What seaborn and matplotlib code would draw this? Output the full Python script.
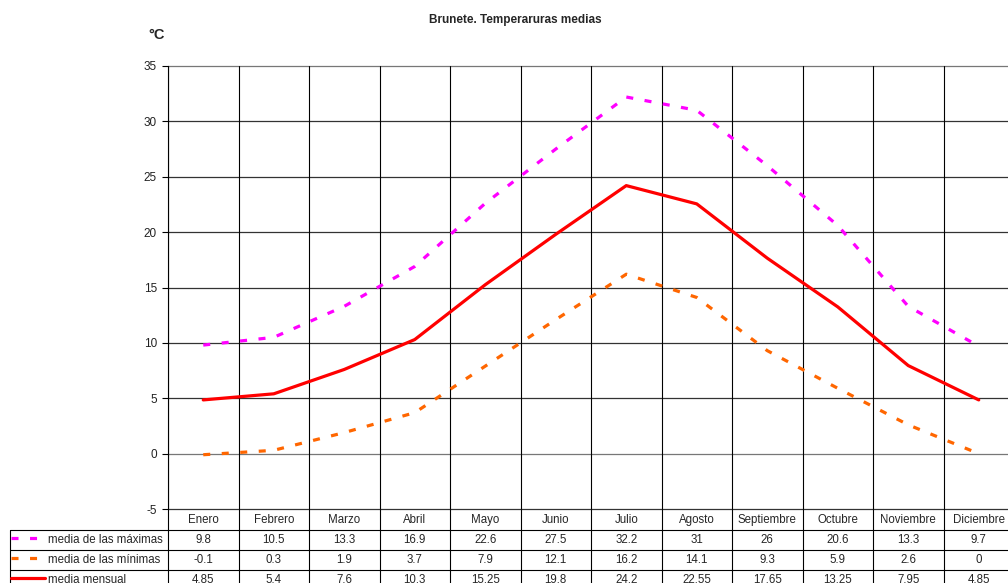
import matplotlib
matplotlib.use("Agg")
import matplotlib.pyplot as plt
import seaborn as sns
import pandas as pd

months = ["Enero", "Febrero", "Marzo", "Abril", "Mayo", "Junio", "Julio",
          "Agosto", "Septiembre", "Octubre", "Noviembre", "Diciembre"]
maximas = [9.8, 10.5, 13.3, 16.9, 22.6, 27.5, 32.2, 31, 26, 20.6, 13.3, 9.7]
minimas = [-0.1, 0.3, 1.9, 3.7, 7.9, 12.1, 16.2, 14.1, 9.3, 5.9, 2.6, 0]
mensual = [4.85, 5.4, 7.6, 10.3, 15.25, 19.8, 24.2, 22.55, 17.65, 13.25, 7.95, 4.85]
max_labels = ["9.8", "10.5", "13.3", "16.9", "22.6", "27.5", "32.2", "31", "26", "20.6", "13.3", "9.7"]
min_labels = ["-0.1", "0.3", "1.9", "3.7", "7.9", "12.1", "16.2", "14.1", "9.3", "5.9", "2.6", "0"]
men_labels = ["4.85", "5.4", "7.6", "10.3", "15.25", "19.8", "24.2", "22.55", "17.65", "13.25", "7.95", "4.85"]
series_names = ["media de las máximas", "media de las mínimas", "media mensual"]
yticks = [-5, 0, 5, 10, 15, 20, 25, 30, 35]

sns.set_theme(style="white")
plt.rcParams['font.family'] = ['Liberation Sans', 'DejaVu Sans']

W, H = 1008, 583
fig = plt.figure(figsize=(W / 100, H / 100), dpi=100)
ax_l, ax_r, ax_t, ax_b = 168, 1014, 66, 509
ax = fig.add_axes([ax_l / W, 1 - ax_b / H, (ax_r - ax_l) / W, (ax_b - ax_t) / H])

x = list(range(len(months)))
df = pd.DataFrame({"x": x * 3,
                   "v": maximas + minimas + mensual,
                   "s": [series_names[0]] * 12 + [series_names[1]] * 12 + [series_names[2]] * 12})

colors = {series_names[0]: "#ff00ff", series_names[1]: "#ff6600", series_names[2]: "#ff0000"}
styles = {series_names[0]: (0, (2.2, 3.6)), series_names[1]: (0, (2.2, 3.6)), series_names[2]: "-"}
for name in series_names:
    sub = df[df["s"] == name]
    sns.lineplot(data=sub, x="x", y="v", ax=ax, color=colors[name], lw=2.3,
                 linestyle=styles[name], legend=False, zorder=3)

ax.set_xlim(-0.5, 11.5)
ax.set_ylim(-5, 35)
ax.set_yticks(yticks)
ax.set_yticklabels([str(t) for t in yticks], fontsize=8.5, color="#222222")
ax.set_xticks([])
ax.set_xlabel("")
ax.set_ylabel("")
ax.tick_params(axis="y", length=4, width=0.8, color="black", direction="out", pad=4, left=True)
for yv in yticks:
    ax.axhline(yv, color="#333333" if yv not in (0, 35) else "#777777", lw=0.9, zorder=1, clip_on=False)
for i in range(13):
    ax.axvline(i - 0.5, color="black", lw=0.8, zorder=1)
for side in ["top", "right", "bottom"]:
    ax.spines[side].set_visible(False)
ax.spines["left"].set_color("black")
ax.spines["left"].set_linewidth(0.8)

# data table below
px_per_cat = (ax_r - ax_l) / 12.0
def px_to_xd(px):
    return -0.5 + (px - ax_l) / px_per_cat
def py_to_ya(py):
    return (ax_b - py) / (ax_b - ax_t)

tr = ax.get_xaxis_transform()
row_lines = [530, 550, 570]
x_left = px_to_xd(10)
for py in row_lines:
    ax.plot([x_left, 11.5], [py_to_ya(py)] * 2, color="black", lw=0.8, transform=tr, clip_on=False)
ax.plot([x_left, x_left], [py_to_ya(530), py_to_ya(600)], color="black", lw=0.8, transform=tr, clip_on=False)
for i in range(13):
    ax.plot([i - 0.5, i - 0.5], [0, py_to_ya(600)], color="black", lw=0.8, transform=tr, clip_on=False)

fs = 8.3
for i, m in enumerate(months):
    ax.text(i, py_to_ya(520), m, transform=tr, ha="center", va="center", fontsize=fs, clip_on=False)
rows = [max_labels, min_labels, men_labels]
centers = [540, 560, 580]
for r, labels in enumerate(rows):
    for i, lab in enumerate(labels):
        ax.text(i, py_to_ya(centers[r]), lab, transform=tr, ha="center", va="center", fontsize=fs, clip_on=False)
    ax.text(px_to_xd(48), py_to_ya(centers[r]), series_names[r], transform=tr, ha="left",
            va="center", fontsize=fs, clip_on=False)
    ax.plot([px_to_xd(11), px_to_xd(45)], [py_to_ya(centers[r] - 2)] * 2, color=colors[series_names[r]],
            lw=2.3, linestyle=styles[series_names[r]], transform=tr, clip_on=False)

fig.text(515 / W, 1 - 20 / H, "Brunete. Temperaruras medias", ha="center", va="center",
         fontsize=8.5, fontweight="bold")
fig.text(148 / W, 1 - 35 / H, "°C", ha="left", va="center", fontsize=10.5, fontweight="bold")

fig.savefig("out.png", dpi=100, facecolor="white")
